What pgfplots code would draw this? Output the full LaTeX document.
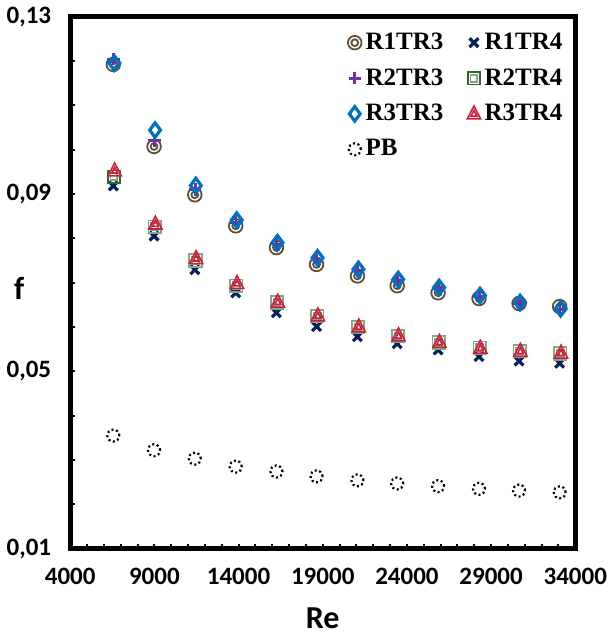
\documentclass[border=0pt]{standalone}
\usepackage{fontspec}
\setmainfont{Carlito}
\newfontfamily\legfont{Liberation Serif}
\usepackage{pgfplots}
\pgfplotsset{compat=1.18}
\definecolor{circc}{RGB}{94,80,50}
\definecolor{navyc}{RGB}{0,32,96}
\definecolor{purpc}{RGB}{112,48,160}
\definecolor{sqc}{RGB}{50,100,50}
\definecolor{sqin}{RGB}{130,170,130}
\definecolor{bluec}{RGB}{0,112,192}
\definecolor{redc}{RGB}{205,30,60}
\pgfdeclareplotmark{dcircle}{%
  \pgfpathcircle{\pgfpointorigin}{\pgfplotmarksize}\pgfusepathqstroke
  \pgfpathcircle{\pgfpointorigin}{0.5\pgfplotmarksize}\pgfusepathqstroke}
\pgfdeclareplotmark{dsquare}{%
  \pgfpathrectangle{\pgfpoint{-\pgfplotmarksize}{-\pgfplotmarksize}}{\pgfpoint{2\pgfplotmarksize}{2\pgfplotmarksize}}\pgfusepathqstroke
  \pgfsetstrokecolor{sqin}%
  \pgfpathrectangle{\pgfpoint{-0.55\pgfplotmarksize}{-0.55\pgfplotmarksize}}{\pgfpoint{1.1\pgfplotmarksize}{1.1\pgfplotmarksize}}\pgfusepathqstroke}
\pgfdeclareplotmark{dtriangle}{%
  \pgfpathmoveto{\pgfpoint{0pt}{1.2\pgfplotmarksize}}
  \pgfpathlineto{\pgfpoint{-\pgfplotmarksize}{-0.75\pgfplotmarksize}}
  \pgfpathlineto{\pgfpoint{\pgfplotmarksize}{-0.75\pgfplotmarksize}}
  \pgfpathclose\pgfusepathqstroke
  \pgfpathmoveto{\pgfpoint{0pt}{0.55\pgfplotmarksize}}
  \pgfpathlineto{\pgfpoint{-0.45\pgfplotmarksize}{-0.35\pgfplotmarksize}}
  \pgfpathlineto{\pgfpoint{0.45\pgfplotmarksize}{-0.35\pgfplotmarksize}}
  \pgfpathclose\pgfusepathqstroke}
\begin{document}
\begin{tikzpicture}
\begin{axis}[
  width=252.5pt, height=266pt, scale only axis,
  xmin=4000, xmax=34000, ymin=0.01, ymax=0.13,
  scaled x ticks=false, scaled y ticks=false,
  xtick={4000,9000,14000,19000,24000,29000,34000},
  xticklabels={4000,9000,14000,19000,24000,29000,34000},
  ytick={0.01,0.05,0.09,0.13},
  yticklabels={{0,01},{0,05},{0,09},{0,13}},
  minor x tick num=4, minor y tick num=3,
  tick align=inside, tick pos=left,
  major tick length=2.2pt, minor tick length=2.2pt,
  every tick/.style={black, line width=1pt},
  axis line style={line width=2.5pt},
  /pgf/number format/assume math mode=true,
  ticklabel style={font=\bfseries\fontsize{12.5}{14}\selectfont},
  xticklabel style={yshift=-6pt},
  yticklabel style={xshift=-6pt},
  xlabel={Re}, ylabel={f},
  label style={font=\bfseries\fontsize{16}{18}\selectfont},
  xlabel style={at={(axis description cs:0.5,-0.13)}, anchor=center},
  ylabel style={at={(axis description cs:-0.101,0.49)}, anchor=center, rotate=-90},
  legend style={draw=none, fill=none, at={(rel axis cs:0.995,0.985)}, anchor=north east,
    font=\legfont\bfseries\fontsize{12.5}{14}\selectfont, row sep=4pt,
    /tikz/every even column/.append style={column sep=10pt}},
  legend columns=2, legend cell align=left,
]
\addplot[only marks, mark=dcircle, color=circc, mark size=3.4pt, line width=0.9pt] coordinates {
(6560,0.1192) (8980,0.1007) (11400,0.0898) (13830,0.0828) (16250,0.0779) (18630,0.0741)
(21060,0.0715) (23420,0.0693) (25850,0.0677) (28280,0.0664) (30660,0.0653) (33070,0.0646)};
\addlegendentry{R1TR3}
\addplot[only marks, mark=x, color=navyc, mark size=3.1pt, line width=1.6pt] coordinates {
(6560,0.0918) (8980,0.0805) (11400,0.0729) (13830,0.0677) (16250,0.0632) (18630,0.0601)
(21060,0.0578) (23420,0.0562) (25850,0.0548) (28280,0.0533) (30660,0.0523) (33070,0.0518)};
\addlegendentry{R1TR4}
\addplot[only marks, mark=+, color=purpc, mark size=3.1pt, line width=1.4pt] coordinates {
(6580,0.1204) (9000,0.1020) (11420,0.0910) (13850,0.0836) (16270,0.0787) (18650,0.0753)
(21080,0.0727) (23440,0.0704) (25870,0.0686) (28300,0.0669) (30680,0.0653) (33090,0.0640)};
\addlegendentry{R2TR3}
\addplot[only marks, mark=dsquare, color=sqc, mark size=3.1pt, line width=0.9pt] coordinates {
(6600,0.0939) (9020,0.0826) (11440,0.0750) (13870,0.0693) (16290,0.0655) (18670,0.0625)
(21100,0.0600) (23460,0.0580) (25890,0.0565) (28320,0.0553) (30700,0.0546) (33110,0.0540)};
\addlegendentry{R2TR4}
\addplot[only marks, mark=diamond, color=bluec, mark size=3.6pt, line width=1.6pt] coordinates {
(6620,0.1195) (9040,0.1044) (11460,0.0919) (13890,0.0841) (16310,0.0790) (18690,0.0756)
(21120,0.0730) (23480,0.0707) (25910,0.0689) (28340,0.0671) (30720,0.0655) (33130,0.0641)};
\addlegendentry{R3TR3}
\addplot[only marks, mark=dtriangle, color=redc, mark size=3.3pt, line width=0.8pt] coordinates {
(6640,0.0952) (9060,0.0832) (11480,0.0754) (13910,0.0698) (16330,0.0656) (18710,0.0625)
(21140,0.0600) (23500,0.0580) (25930,0.0565) (28360,0.0552) (30740,0.0545) (33150,0.0541)};
\addlegendentry{R3TR4}
\addplot[only marks, mark=o, color=black, mark size=3pt, mark options={line width=1.1pt, dash pattern=on 1pt off 1.3pt}] coordinates {
(6560,0.0355) (8980,0.0322) (11400,0.0303) (13830,0.0285) (16250,0.0274) (18630,0.0263)
(21060,0.0254) (23420,0.0247) (25850,0.0241) (28280,0.0235) (30660,0.0231) (33070,0.0227)};
\addlegendentry{PB}
\end{axis}
\end{tikzpicture}
\end{document}
